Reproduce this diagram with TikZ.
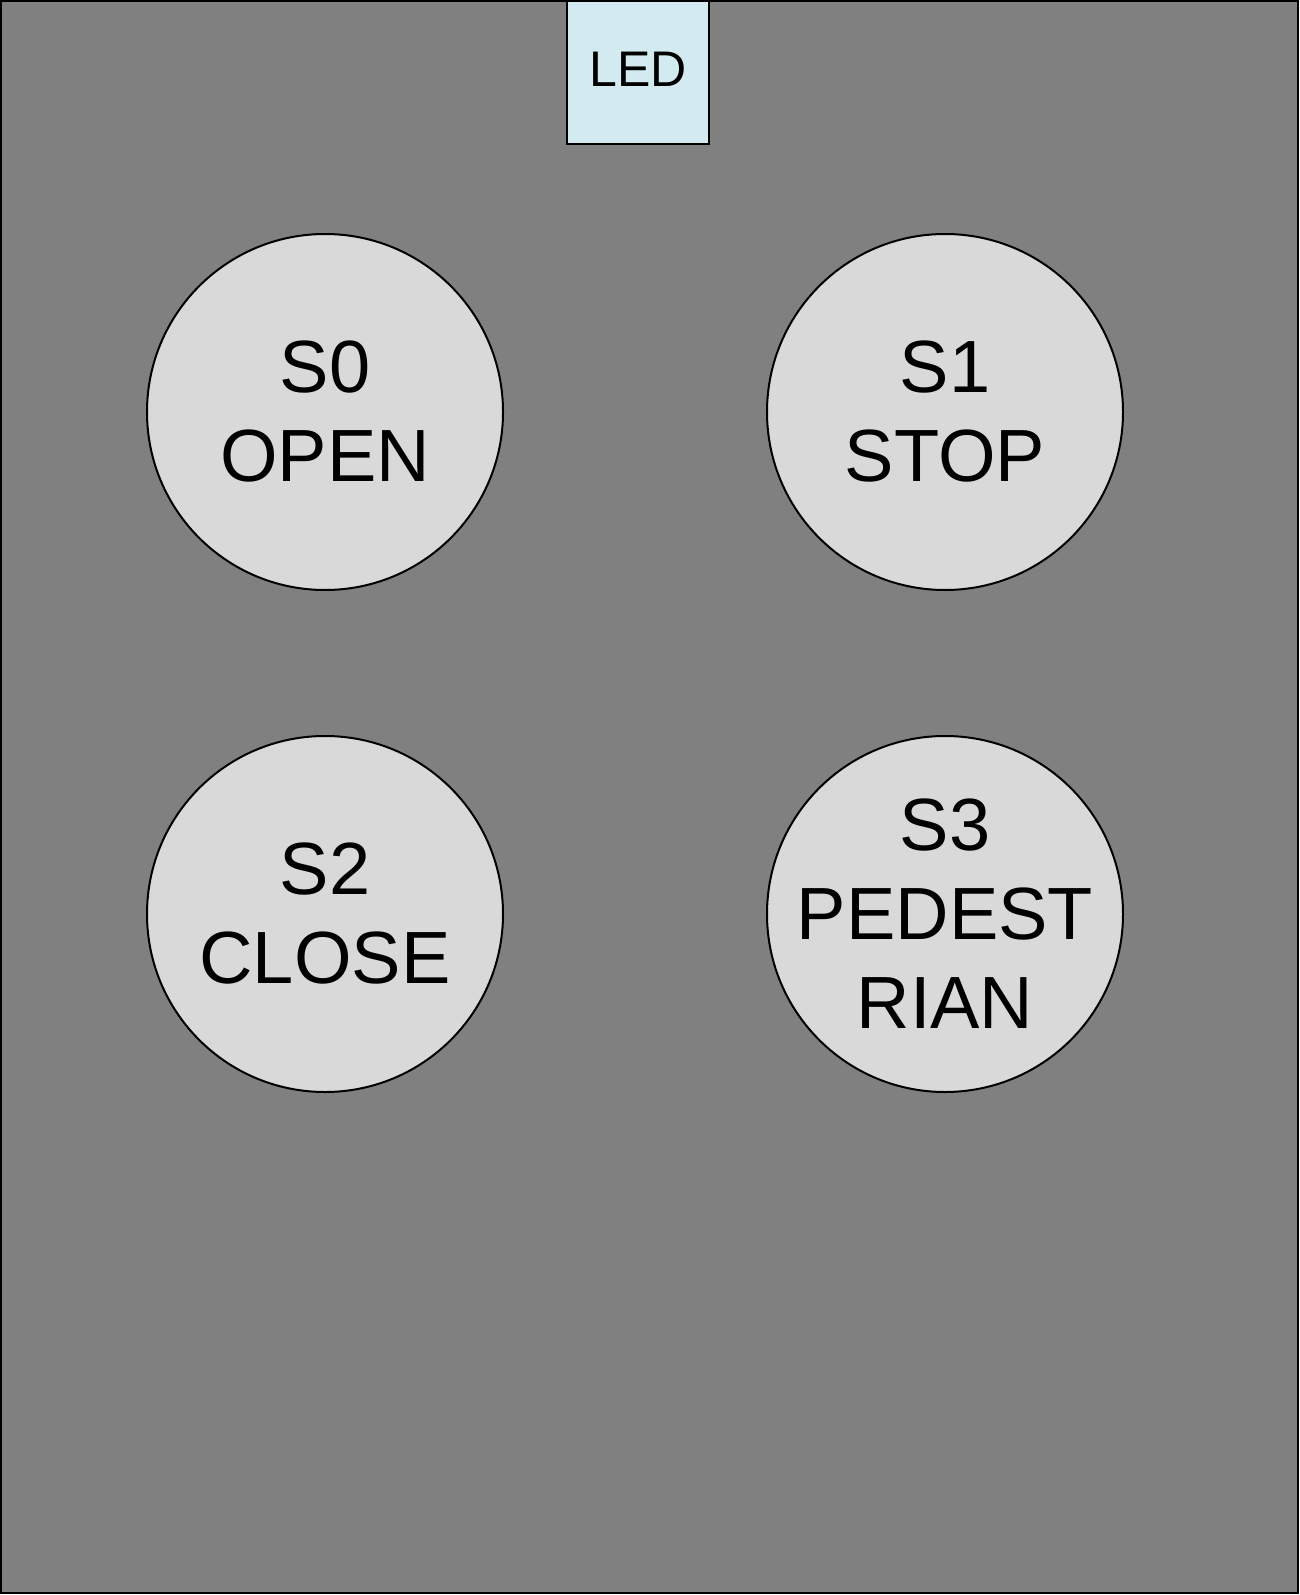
\documentclass[tikz,border=0pt]{standalone}
\usepackage{fontspec}
\setmainfont{Liberation Sans}
\usetikzlibrary{positioning}

\definecolor{panelgray}{RGB}{128,128,128}
\definecolor{buttongray}{RGB}{217,217,217}
\definecolor{ledblue}{RGB}{210,234,240}

\begin{document}
\begin{tikzpicture}[x=1pt,y=1pt,line width=1pt,node distance=73pt and 132pt,
  button node/.style={circle,fill=buttongray,draw,align=center,
  font=\fontsize{37}{44.5}\selectfont,minimum size=178pt,inner sep=-15pt,outer sep=0pt},
  led node/.style={rectangle,fill=ledblue,draw,font=\fontsize{25}{30}\selectfont,
  minimum width=71pt,minimum height=71.5pt,inner sep=0pt,outer sep=0pt,text depth=3.5pt}]

  \useasboundingbox (0,0) rectangle (650,-797.5);
  \draw[fill=panelgray] (0.5,-0.5) rectangle (649,-796.5);

  \node[led node]    (LED) [anchor=north] at (319,-0.5) {LED};
  \node[button node] (S0)  at (162.5,-206)   {S0\\OPEN};
  \node[button node] (S1)  [right=of S0]     {S1\\STOP};
  \node[button node] (S2)  [below=of S0]     {S2\\CLOSE};
  \node[button node] (S3)  [right=of S2]     {S3\\PEDEST\\RIAN};

\end{tikzpicture}
\end{document}
